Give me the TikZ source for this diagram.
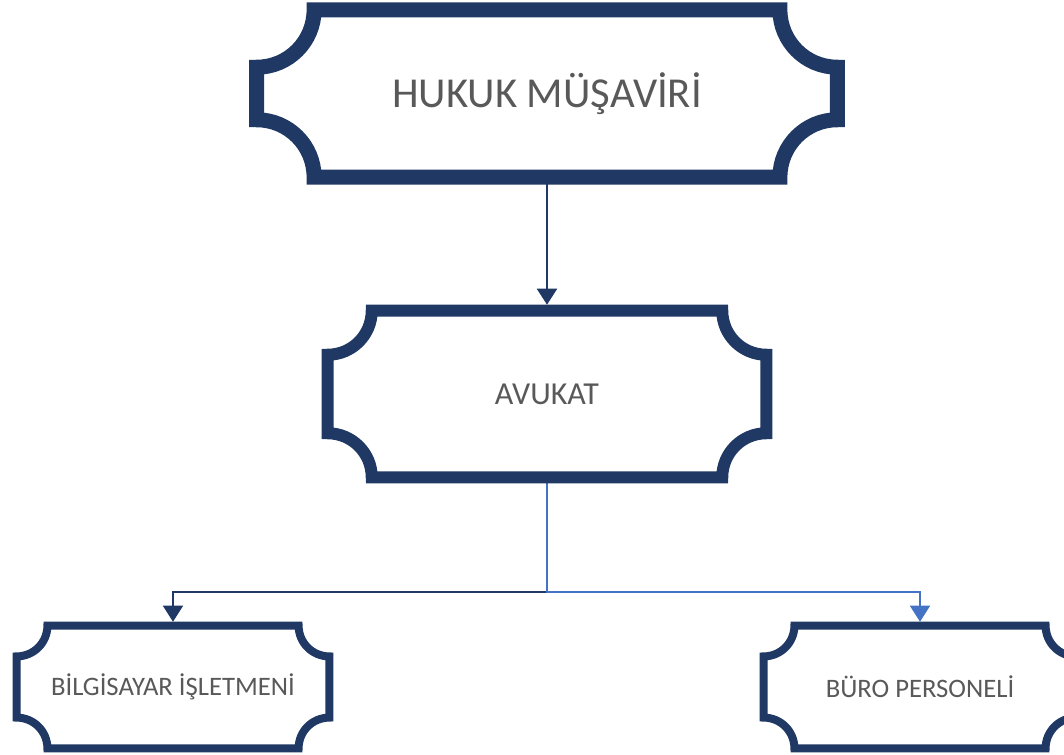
\documentclass[tikz,border=0pt]{standalone}
\usepackage{fontspec}
\setmainfont{Carlito}
\usetikzlibrary{arrows.meta}
\definecolor{lacivert}{HTML}{203864}
\definecolor{mavi}{HTML}{4472C4}
\definecolor{yazi}{HTML}{595959}
\begin{document}
\begin{tikzpicture}[x=0.75pt,y=0.75pt,>={Triangle[length=12pt,width=15pt]},line join=miter]
	\tikzset{kutu/.style={inner sep=0pt,text=yazi},
		bag/.style={->,line width=1.1pt}}
	\useasboundingbox (0,0) rectangle (1064,-755);
	\node[kutu,minimum width=435pt,minimum height=125pt,font=\fontsize{32}{38}\selectfont] (hukuk) at (547,-93.5) {HUKUK MÜŞAVİRİ};
	\node[kutu,minimum width=328.5pt,minimum height=124.5pt,font=\fontsize{24}{29}\selectfont] (avukat) at (547,-394) {AVUKAT};
	\node[kutu,minimum width=234pt,minimum height=91.5pt,font=\fontsize{20}{24}\selectfont] (bilgi) at (173,-687) {BİLGİSAYAR İŞLETMENİ};
	\node[kutu,minimum width=234pt,minimum height=91.5pt,font=\fontsize{20}{24}\selectfont] (buro) at (920,-687) {BÜRO PERSONELİ};
	\coordinate (ayrim) at (547,-592);
	\draw[bag,lacivert,line width=1.5pt,shorten >=4.5pt] (hukuk.south) -- (avukat.north);
	\draw[bag,lacivert,shorten >=3pt] (avukat.south) -- (ayrim) -| (bilgi.north);
	\draw[bag,mavi,shorten >=3pt] (avukat.south) -- (ayrim) -| (buro.north);
	\foreach \n/\r/\w in {hukuk/43pt/11.25pt,avukat/33pt/9pt,bilgi/23pt/6pt,buro/23pt/6pt}{
		\draw[lacivert,line width=\w] ([xshift=\r]\n.north west) -- ([xshift=-\r]\n.north east)
			arc[start angle=180,end angle=270,radius=\r] -- ([yshift=\r]\n.south east)
			arc[start angle=90,end angle=180,radius=\r] -- ([xshift=\r]\n.south west)
			arc[start angle=0,end angle=90,radius=\r] -- ([yshift=-\r]\n.north west)
			arc[start angle=270,end angle=360,radius=\r] -- cycle;
	}
\end{tikzpicture}
\end{document}
